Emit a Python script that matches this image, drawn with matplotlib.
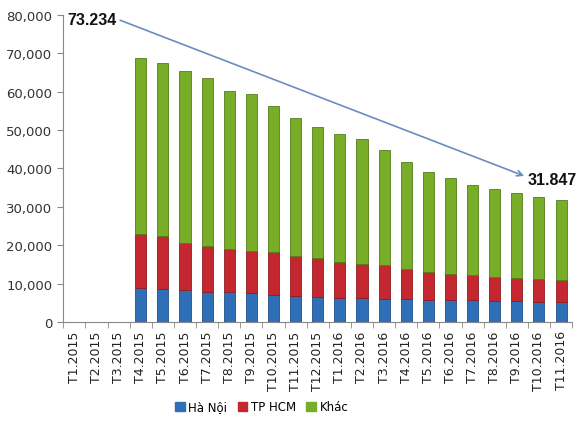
import matplotlib.pyplot as plt
import numpy as np
from matplotlib.ticker import FuncFormatter, FixedLocator
from matplotlib.patches import Patch

# Months (T = tháng)
months = ["T1.2015", "T2.2015", "T3.2015", "T4.2015", "T5.2015", "T6.2015",
          "T7.2015", "T8.2015", "T9.2015", "T10.2015", "T11.2015", "T12.2015",
          "T1.2016", "T2.2016", "T3.2016", "T4.2016", "T5.2016", "T6.2016",
          "T7.2016", "T8.2016", "T9.2016", "T10.2016", "T11.2016"]

# values (stacked pieces)
ha_noi = [0, 0, 0, 8900, 8500, 8300, 7900, 7700, 7500, 7100, 6800, 6500,
          6300, 6200, 5900, 5900, 5700, 5700, 5700, 5400, 5400, 5200, 5200]
tp_hcm = [0, 0, 0, 14100, 13800, 12400, 11900, 11300, 11000, 11200, 10400, 10100,
          9400, 9000, 8900, 7800, 7300, 6700, 6500, 6300, 6000, 5900, 5700]
khac = [0, 0, 0, 45700, 45100, 44700, 43800, 41300, 40800, 38000, 36000, 34300,
        33400, 32500, 30100, 27900, 26200, 25100, 23600, 22900, 22200, 21600, 20947]

start_label = "73.234"
end_label = "31.847"

BLUE = "#2f6fb7"
RED = "#c4272f"
GREEN = "#78ad28"

fig = plt.figure(figsize=(5.88, 4.27), dpi=100)
ax = fig.add_axes([0.107, 0.2436, 0.866, 0.7189])

x = np.arange(len(months))
hn = np.array(ha_noi)
hcm = np.array(tp_hcm)
kh = np.array(khac)

w = 0.5
ax.bar(x, hn, width=w, color=BLUE, edgecolor="#1f4f8a", linewidth=0.6)
ax.bar(x, hcm, width=w, bottom=hn, color=RED, edgecolor="#8e1c22", linewidth=0.6)
ax.bar(x, kh, width=w, bottom=hn + hcm, color=GREEN, edgecolor="#557d1c", linewidth=0.6)

ax.set_xlim(-0.52, 22.5)
ax.set_ylim(0, 80000)
ax.set_yticks(np.arange(0, 80001, 10000))
ax.yaxis.set_major_formatter(FuncFormatter(lambda v, p: f"{int(v):,}"))
ax.tick_params(axis="y", labelsize=9.5, colors="#333333", length=4, color="#888888")

# category labels in the middle, tick marks between categories
ax.set_xticks(x)
ax.set_xticklabels(months, rotation=90, fontsize=9, color="#222222")
ax.tick_params(axis="x", which="major", length=0, pad=6)
ax.xaxis.set_minor_locator(FixedLocator(np.arange(-0.5, 23, 1)))
ax.tick_params(axis="x", which="minor", length=4, color="#888888")

for s in ["top", "right"]:
    ax.spines[s].set_visible(False)
ax.spines["left"].set_color("#888888")
ax.spines["bottom"].set_color("#888888")

# trend arrow between the two totals
ax.annotate("", xy=(20.45, 37800), xytext=(1.95, 78900),
            arrowprops=dict(arrowstyle="->", color="#6b8cc0", lw=1.2),
            annotation_clip=False)
ax.text(-0.3, 78900, start_label, fontsize=11.5, fontweight="bold",
        family="Liberation Sans", va="center", ha="left", color="#111111", clip_on=False)
ax.text(20.5, 37100, end_label, fontsize=11.5, fontweight="bold",
        family="Liberation Sans", va="center", ha="left", color="#111111", clip_on=False)

handles = [Patch(color=BLUE), Patch(color=RED), Patch(color=GREEN)]
fig.legend(handles, ["Hà Nội", "TP HCM", "Khác"], loc="center",
           bbox_to_anchor=(0.445, 0.045), ncol=3, frameon=False, fontsize=8.5,
           handlelength=0.8, handleheight=0.8, handletextpad=0.3, columnspacing=0.9)

plt.savefig("out.png", dpi=100)
plt.close()
